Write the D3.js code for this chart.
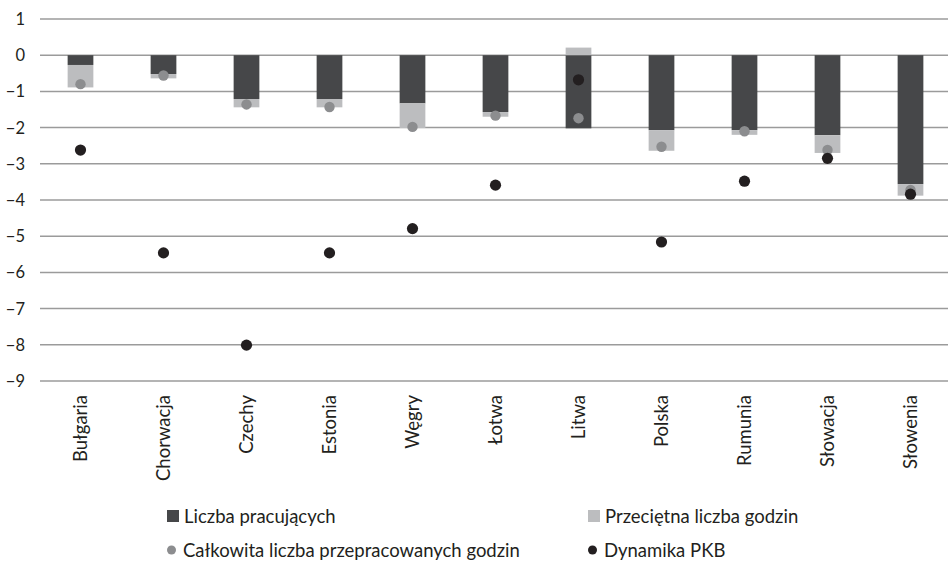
<!DOCTYPE html>
<html>
<head>
<meta charset="utf-8">
<script src="https://cdn.jsdelivr.net/npm/d3@7"></script>
<style>
  html, body { margin: 0; padding: 0; background: #fff; }
  svg { display: block; font-family: Lato, "Open Sans", sans-serif; }
</style>
</head>
<body>
<svg id="chart" width="948" height="564"></svg>
<script>
// Kraje
const categories = ["Bułgaria", "Chorwacja", "Czechy", "Estonia", "Węgry", "Łotwa",
                    "Litwa", "Polska", "Rumunia", "Słowacja", "Słowenia"];
// Wkład liczby pracujących (słupek ciemny)
const employed = [-0.27, -0.52, -1.21, -1.21, -1.33, -1.57, -2.02, -2.07, -2.07, -2.21, -3.56];
// Wkład przeciętnej liczby godzin (słupek jasny)
const avgHours = [-0.62, -0.12, -0.23, -0.23, -0.68, -0.13, 0.21, -0.57, -0.13, -0.49, -0.32];
// Całkowita liczba przepracowanych godzin (szara kropka)
const totalHours = [-0.80, -0.56, -1.36, -1.43, -1.98, -1.67, -1.74, -2.53, -2.10, -2.62, -3.72];
// Dynamika PKB (czarna kropka)
const gdp = [-2.62, -5.46, -8.01, -5.46, -4.79, -3.59, -0.68, -5.16, -3.48, -2.85, -3.84];
// Podziałka osi Y
const yTicks = [1, 0, -1, -2, -3, -4, -5, -6, -7, -8, -9];

const legendItems = [
  { label: "Liczba pracujących", shape: "rect", color: "#464749", col: 0, row: 0 },
  { label: "Przeciętna liczba godzin", shape: "rect", color: "#bcbdbf", col: 1, row: 0 },
  { label: "Całkowita liczba przepracowanych godzin", shape: "circle", color: "#8c8d8f", col: 0, row: 1 },
  { label: "Dynamika PKB", shape: "circle", color: "#231f20", col: 1, row: 1 }
];

const svg = d3.select("#chart");

const x = d3.scaleBand().domain(categories).range([39, 952]).padding(0);
const y = d3.scaleLinear().domain([-9, 1]).range([381, 19]);
const barW = x.bandwidth() * 0.31;

// Linie siatki
svg.append("g")
  .selectAll("line")
  .data(yTicks)
  .join("line")
  .attr("x1", 40).attr("x2", 948)
  .attr("y1", d => y(d)).attr("y2", d => y(d))
  .attr("stroke", "#9b9b9b")
  .attr("stroke-width", 1.5);

// Etykiety osi Y
svg.append("g")
  .selectAll("text")
  .data(yTicks)
  .join("text")
  .attr("x", 25)
  .attr("y", d => y(d))
  .attr("dy", "0.36em")
  .attr("text-anchor", "end")
  .attr("font-size", 16.5)
  .attr("fill", "#231f20")
  .text(d => d3.format("d")(d));

// Słupki skumulowane (wartości ujemne w dół, dodatnie w górę)
const rows = categories.map((c, i) => ({ country: c, employed: employed[i], avgHours: avgHours[i] }));
const stack = d3.stack()
  .keys(["employed", "avgHours"])
  .offset(d3.stackOffsetDiverging);
const series = stack(rows);
const barColors = { employed: "#464749", avgHours: "#bcbdbf" };

svg.append("g")
  .selectAll("g")
  .data(series)
  .join("g")
  .attr("fill", s => barColors[s.key])
  .selectAll("rect")
  .data(s => s)
  .join("rect")
  .attr("x", d => x(d.data.country) + (x.bandwidth() - barW) / 2)
  .attr("width", barW)
  .attr("y", d => y(Math.max(d[0], d[1])))
  .attr("height", d => Math.abs(y(d[0]) - y(d[1])));

// Kropki: całkowita liczba godzin
svg.append("g")
  .selectAll("circle")
  .data(totalHours)
  .join("circle")
  .attr("cx", (d, i) => x(categories[i]) + x.bandwidth() / 2)
  .attr("cy", d => y(d))
  .attr("r", 5.2)
  .attr("fill", "#8c8d8f");

// Kropki: dynamika PKB
svg.append("g")
  .selectAll("circle")
  .data(gdp)
  .join("circle")
  .attr("cx", (d, i) => x(categories[i]) + x.bandwidth() / 2)
  .attr("cy", d => y(d))
  .attr("r", 5.6)
  .attr("fill", "#231f20");

// Etykiety krajów (pionowo)
svg.append("g")
  .selectAll("text")
  .data(categories)
  .join("text")
  .attr("transform", d => `translate(${x(d) + x.bandwidth() / 2},395) rotate(-90)`)
  .attr("dy", "0.36em")
  .attr("text-anchor", "end")
  .attr("font-size", 18.5)
  .attr("fill", "#231f20")
  .text(d => d);

// Legenda
const colX = [167, 588];
const rowY = [516, 550];
const lg = svg.append("g")
  .selectAll("g")
  .data(legendItems)
  .join("g")
  .attr("transform", d => `translate(${colX[d.col]},${rowY[d.row]})`);

lg.filter(d => d.shape === "rect")
  .append("rect")
  .attr("x", 0).attr("y", -6)
  .attr("width", 12).attr("height", 12)
  .attr("fill", d => d.color);

lg.filter(d => d.shape === "circle")
  .append("circle")
  .attr("cx", 4.5).attr("cy", 0)
  .attr("r", 4.5)
  .attr("fill", d => d.color);

lg.append("text")
  .attr("x", d => d.shape === "rect" ? 17 : 16)
  .attr("y", 0)
  .attr("dy", "0.36em")
  .attr("font-size", 18.5)
  .attr("fill", "#231f20")
  .text(d => d.label);
</script>
</body>
</html>
